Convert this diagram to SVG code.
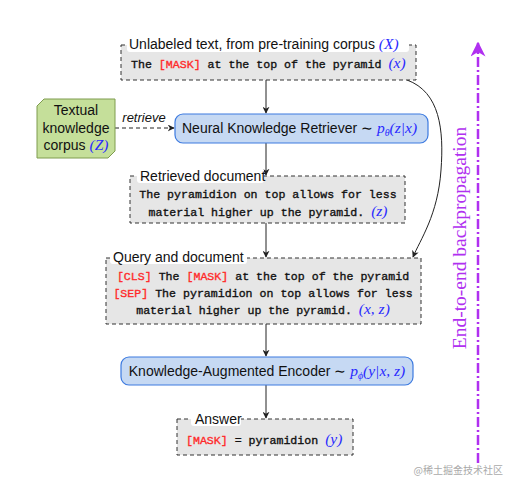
<svg xmlns="http://www.w3.org/2000/svg" width="508" height="481" viewBox="0 0 508 481">
<style>
.box{fill:#e6e6e6;stroke:#333;stroke-width:1;stroke-dasharray:4,3}
.lbg{fill:#fff}
.ttl{font-family:"Liberation Sans","Open Sans",sans-serif;font-size:14px;fill:#111}
.mono{font-family:"Liberation Mono","DejaVu Sans Mono",monospace;font-size:11.6px;fill:#111;stroke:#111;stroke-width:0.35}
.red{fill:#ff2a2a;stroke:#ff2a2a}
.math{font-family:"Liberation Serif","DejaVu Serif",serif;font-style:italic;fill:#2a2aff;stroke:none;font-size:15.5px}
.blue{fill:#c6d9f3;stroke:#3c7ae0;stroke-width:1.2}
.conn{stroke:#222;stroke-width:1;fill:none}
</style>
<defs>
<marker id="ah" viewBox="0 0 10 10" refX="9" refY="5" markerWidth="7" markerHeight="7" orient="auto" markerUnits="userSpaceOnUse">
<path d="M0,0 L10,5 L0,10 L3,5 Z" fill="#222"/>
</marker>
<marker id="ahp" viewBox="0 0 10 10" refX="9" refY="5" markerWidth="15" markerHeight="15" orient="auto" markerUnits="userSpaceOnUse">
<path d="M0,0 L10,5 L0,10 L3,5 Z" fill="#b030f0"/>
</marker>
</defs>

<g id="connectors">
<line class="conn" x1="266" y1="80" x2="266" y2="113" marker-end="url(#ah)"/>
<line class="conn" x1="266" y1="143" x2="266" y2="175" marker-end="url(#ah)"/>
<line class="conn" x1="266" y1="223" x2="266" y2="257" marker-end="url(#ah)"/>
<line class="conn" x1="266" y1="324" x2="266" y2="356" marker-end="url(#ah)"/>
<line class="conn" x1="266" y1="385" x2="266" y2="418" marker-end="url(#ah)"/>
<path class="conn" d="M407,80 C440,92 444,130 441,170 C438,215 420,240 413,257" marker-end="url(#ah)"/>
<line class="conn" x1="115" y1="128" x2="174" y2="128" stroke-dasharray="4,3" marker-end="url(#ah)"/>
<text x="144" y="122" text-anchor="middle" font-family="Liberation Sans, Open Sans, sans-serif" font-style="italic" font-size="13" fill="#111">retrieve</text>
</g>

<g id="unlabeled">
<rect class="box" x="121" y="45" width="295" height="35"/>
<rect class="lbg" x="127" y="36" width="282" height="16" rx="3"/>
<text class="ttl" x="129" y="49">Unlabeled text, from pre-training corpus <tspan class="math">(X)</tspan></text>
<text class="mono" x="131" y="68">The <tspan class="red">[MASK]</tspan> at the top of the pyramid <tspan class="math">(x)</tspan></text>
</g>

<g id="corpus">
<path d="M44,99 L115,99 L115,151 L108,158 L37,158 L37,106 Z" fill="#c5df9a" stroke="#7e9c4e" stroke-width="1"/>
<text class="ttl" text-anchor="middle" x="76" y="115">Textual</text>
<text class="ttl" text-anchor="middle" x="76" y="133">knowledge</text>
<text class="ttl" text-anchor="middle" x="76" y="150">corpus <tspan class="math">(Z)</tspan></text>
</g>

<g id="retriever">
<rect class="blue" x="175" y="114" width="253" height="29" rx="8"/>
<text class="ttl" x="182" y="133">Neural Knowledge Retriever ∼ <tspan class="math">p<tspan font-size="10" dy="3">θ</tspan><tspan dy="-3">(z|x)</tspan></tspan></text>
</g>

<g id="retrieved">
<rect class="box" x="130" y="176" width="275" height="47"/>
<rect class="lbg" x="137" y="168" width="127" height="15" rx="3"/>
<text class="ttl" x="140" y="181">Retrieved document</text>
<text class="mono" x="268" y="198" text-anchor="middle">The pyramidion on top allows for less</text>
<text class="mono" x="268" y="216" text-anchor="middle">material higher up the pyramid. <tspan class="math">(z)</tspan></text>
</g>

<g id="query">
<rect class="box" x="106" y="258" width="315" height="66"/>
<rect class="lbg" x="110" y="249" width="137" height="15" rx="3"/>
<text class="ttl" x="113" y="262">Query and document</text>
<text class="mono" x="263" y="280" text-anchor="middle"><tspan class="red">[CLS]</tspan> The <tspan class="red">[MASK]</tspan> at the top of the pyramid</text>
<text class="mono" x="263" y="297" text-anchor="middle"><tspan class="red">[SEP]</tspan> The pyramidion on top allows for less</text>
<text class="mono" x="263" y="314" text-anchor="middle">material higher up the pyramid. <tspan class="math">(x, z)</tspan></text>
</g>

<g id="encoder">
<rect class="blue" x="121" y="357" width="292" height="28" rx="8"/>
<text class="ttl" x="267" y="376" text-anchor="middle">Knowledge-Augmented Encoder ∼ <tspan class="math">p<tspan font-size="10" dy="3">ϕ</tspan><tspan dy="-3">(y|x, z)</tspan></tspan></text>
</g>

<g id="answer">
<rect class="box" x="177" y="419" width="176" height="36"/>
<rect class="lbg" x="191" y="411" width="50" height="15" rx="3"/>
<text class="ttl" x="195" y="424">Answer</text>
<text class="mono" x="186" y="444"><tspan class="red">[MASK]</tspan> = pyramidion <tspan class="math">(y)</tspan></text>
</g>

<g id="backprop">
<line x1="478" y1="463" x2="478" y2="43" stroke="#b030f0" stroke-width="2.5" stroke-dasharray="10,3,2,3" marker-end="url(#ahp)"/>
<text transform="translate(466,238) rotate(-90)" text-anchor="middle" font-family="Liberation Serif, DejaVu Serif, serif" font-size="19.5" fill="#b030f0">End-to-end backpropagation</text>
</g>

<text x="503" y="474" text-anchor="end" font-family="Noto Sans CJK SC, sans-serif" font-size="10" fill="#aaa">@稀土掘金技术社区</text>
</svg>
